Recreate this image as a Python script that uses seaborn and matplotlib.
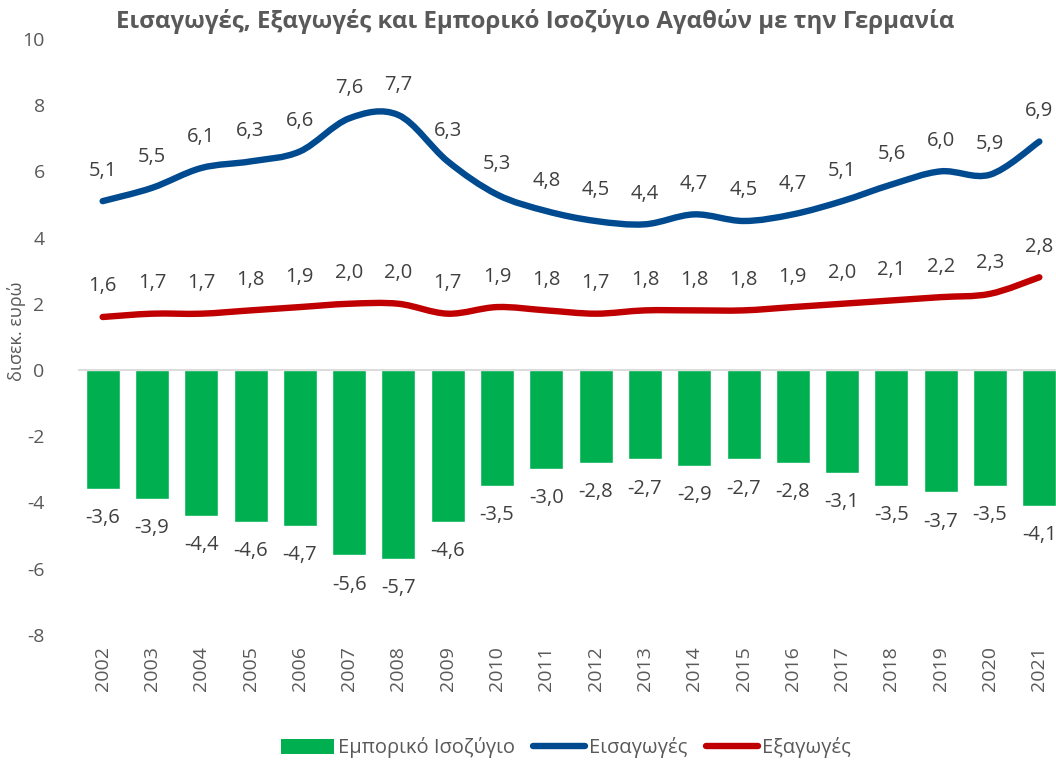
import matplotlib
matplotlib.use("Agg")
import matplotlib.pyplot as plt
import seaborn as sns
import numpy as np
import pandas as pd
from matplotlib.path import Path
from matplotlib.patches import PathPatch, Patch
from matplotlib.lines import Line2D

years = [str(y) for y in range(2002, 2022)]
imports = [5.1, 5.5, 6.1, 6.3, 6.6, 7.6, 7.7, 6.3, 5.3, 4.8, 4.5, 4.4, 4.7, 4.5, 4.7, 5.1, 5.6, 6.0, 5.9, 6.9]
exports = [1.6, 1.7, 1.7, 1.8, 1.9, 2.0, 2.0, 1.7, 1.9, 1.8, 1.7, 1.8, 1.8, 1.8, 1.9, 2.0, 2.1, 2.2, 2.3, 2.8]
balance = [-3.6, -3.9, -4.4, -4.6, -4.7, -5.6, -5.7, -4.6, -3.5, -3.0, -2.8, -2.7, -2.9, -2.7, -2.8, -3.1, -3.5, -3.7, -3.5, -4.1]

title = "Εισαγωγές, Εξαγωγές και Εμπορικό Ισοζύγιο Αγαθών με την Γερμανία"
ylabel = "δισεκ. ευρώ"
names = ["Εμπορικό Ισοζύγιο", "Εισαγωγές", "Εξαγωγές"]

GREEN = "#00B050"
BLUE = "#004A8F"
RED = "#C00000"
GRAY = "#595959"

sns.set_theme(style="white")
plt.rcParams['font.family'] = ['Open Sans', 'DejaVu Sans']

fig = plt.figure(figsize=(10.56, 7.63), dpi=100)
ax = fig.add_axes([78/1056, 0.168, 986/1056, 0.781])

df = pd.DataFrame({"year": years, "balance": balance})
sns.barplot(data=df, x="year", y="balance", color=GREEN, saturation=1, width=0.69, ax=ax)

def smooth_path(xs, ys):
    pts = np.column_stack([xs, ys]).astype(float)
    n = len(pts)
    verts = [pts[0]]
    codes = [Path.MOVETO]
    for i in range(n - 1):
        p0 = pts[i - 1] if i > 0 else pts[i]
        p1 = pts[i]
        p2 = pts[i + 1]
        p3 = pts[i + 2] if i + 2 < n else pts[i + 1]
        c1 = p1 + (p2 - p0) / 6.0
        c2 = p2 - (p3 - p1) / 6.0
        verts += [c1, c2, p2]
        codes += [Path.CURVE4] * 3
    return Path(verts, codes)

xs = np.arange(len(years))
for vals, col in [(imports, BLUE), (exports, RED)]:
    ax.add_patch(PathPatch(smooth_path(xs, vals), facecolor="none", edgecolor=col,
                           lw=4.6, capstyle="round", joinstyle="round", zorder=4))

lblsize = 14.5
LBL = "#404040"
for i in xs:
    ax.annotate(f"{imports[i]:.1f}".replace(".", ","), (i, imports[i]), xytext=(0, 22),
                textcoords="offset points", ha="center", va="center", fontsize=lblsize, color=LBL)
    ax.annotate(f"{exports[i]:.1f}".replace(".", ","), (i, exports[i]), xytext=(0, 22),
                textcoords="offset points", ha="center", va="center", fontsize=lblsize, color=LBL)
    ax.annotate(f"{balance[i]:.1f}".replace(".", ","), (i, balance[i]), xytext=(0, -21),
                textcoords="offset points", ha="center", va="center", fontsize=lblsize, color=LBL)

ax.axhline(0, color="#D9D9D9", lw=1.3, zorder=3)
ax.set_xlim(-0.5, len(years) - 0.5)
ax.set_ylim(-8, 10)
ax.set_yticks(range(-8, 11, 2))
ax.set_yticklabels([str(v) for v in range(-8, 11, 2)])
ax.tick_params(axis="y", length=0, pad=24, labelsize=14, labelcolor=GRAY)
ax.tick_params(axis="x", length=0, pad=8, labelsize=14, labelcolor=GRAY, rotation=90)
for s in ax.spines.values():
    s.set_visible(False)
ax.set_xlabel("")
ax.set_ylabel(ylabel, fontsize=13, color=GRAY)
ax.yaxis.set_label_coords(-52/986, 0.51)

fig.text(535/1056, 1 - 21/763, title, ha="center", va="center", fontsize=17.3,
         fontweight="bold", color=GRAY)

handles = [Patch(facecolor=GREEN, edgecolor="none"),
           Line2D([0], [0], color=BLUE, lw=4.6, solid_capstyle="round"),
           Line2D([0], [0], color=RED, lw=4.6, solid_capstyle="round")]
leg = fig.legend(handles, names, loc="center", bbox_to_anchor=(566/1056, 1 - 748/763), ncol=3,
                 frameon=False, fontsize=14.5, handlelength=2.6, handletextpad=0.2, columnspacing=0.9)
for t in leg.get_texts():
    t.set_color(GRAY)

fig.savefig("out.png", dpi=100)
